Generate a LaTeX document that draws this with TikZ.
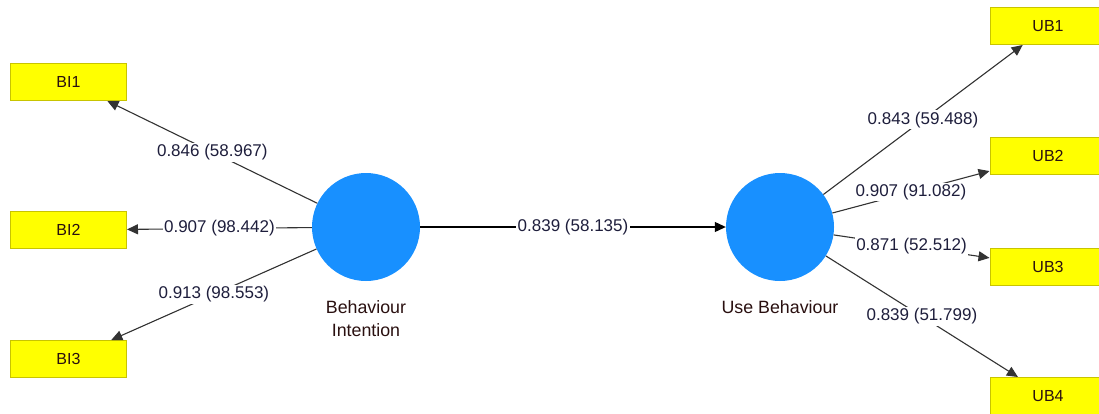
\documentclass[tikz,border=0pt]{standalone}
\usepackage{fontspec}
\setmainfont{Liberation Sans}
\usetikzlibrary{arrows.meta}
\definecolor{lvblue}{HTML}{1890FF}
\definecolor{indyellow}{HTML}{FFFF00}
\definecolor{indborder}{HTML}{C8C400}
\definecolor{numtext}{HTML}{1E1E3C}
\definecolor{boxtext}{HTML}{2A1010}
\definecolor{edgegray}{HTML}{333333}
\tikzset{
  ind/.style={rectangle, draw=indborder, line width=1pt, fill=indyellow,
    minimum width=116pt, minimum height=37pt, inner sep=0pt,
    text=boxtext, font=\fontsize{16}{18}\selectfont},
  lv/.style={circle, fill=lvblue, draw=none, minimum size=108pt, inner sep=0pt},
  lvlab/.style={align=center, text=boxtext, font=\fontsize{17.8}{23}\selectfont},
  edge/.style={draw=edgegray, line width=1.1pt, -{Triangle[length=11pt,width=10pt]}},
  lab/.style={fill=white, inner sep=1.5pt, text=numtext, font=\fontsize{17}{19}\selectfont}
}
\begin{document}
\begin{tikzpicture}[x=1pt,y=-1pt]
\clip (0,0) rectangle (1099,413);
\fill[white] (0,0) rectangle (1099,413);
% indicators
\node[ind] (bi1) at (68.5,82) {BI1};
\node[ind] (bi2) at (68.5,230) {BI2};
\node[ind] (bi3) at (68.5,359) {BI3};
\node[ind] (ub1) at (1048,26) {UB1};
\node[ind] (ub2) at (1048,155.5) {UB2};
\node[ind] (ub3) at (1048,266.5) {UB3};
\node[ind] (ub4) at (1048,396) {UB4};
% latent variables
\node[lv] (bi) at (366,227) {};
\node[lv] (ub) at (780,227) {};
\node[lvlab] (bilab) at (366,318.5) {Behaviour\\Intention};
\node[lvlab] (ublab) at (780,307) {Use Behaviour};
% edges
\draw[edge] (bi) -- node[lab] {0.846 (58.967)} (bi1);
\draw[edge] (bi) -- node[lab] {0.907 (98.442)} (bi2);
\draw[edge] (bi) -- node[lab] {0.913 (98.553)} (bi3);
\draw[edge, draw=black] (bi) -- node[lab] {0.839 (58.135)} (ub);
\draw[edge] (ub) -- node[lab] {0.843 (59.488)} (ub1);
\draw[edge] (ub) -- node[lab] {0.907 (91.082)} (ub2);
\draw[edge] (ub) -- node[lab] {0.871 (52.512)} (ub3);
\draw[edge] (ub) -- node[lab] {0.839 (51.799)} (ub4);
\end{tikzpicture}
\end{document}
